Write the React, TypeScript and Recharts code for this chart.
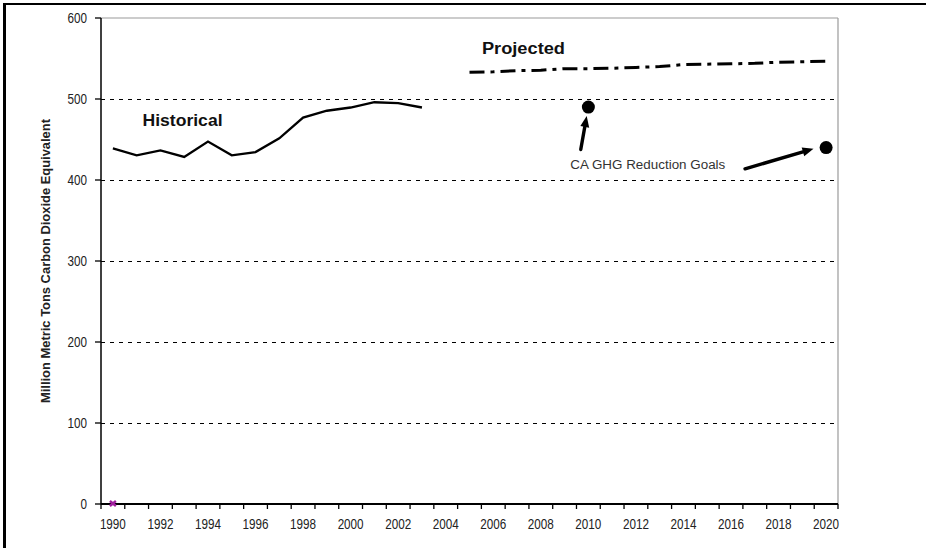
import React from "react";
import { LineChart, Line, XAxis, YAxis, ReferenceLine, ReferenceDot } from "recharts";

// years on the category axis
const years = [
  1990, 1991, 1992, 1993, 1994, 1995, 1996, 1997, 1998, 1999, 2000, 2001, 2002, 2003, 2004,
  2005, 2006, 2007, 2008, 2009, 2010, 2011, 2012, 2013, 2014, 2015, 2016, 2017, 2018, 2019, 2020,
];
// 1990 - 2003
const historical = [439, 430.5, 436.5, 428.5, 447.5, 430.5, 434.5, 451.5, 477, 485.5, 489.5, 496, 495, 489.5];
// 2005 - 2020
const projected = [533, 533.5, 535, 535.5, 537.5, 537.5, 538, 539, 540, 542.5, 543, 543.5, 544, 545.5, 546, 546.5];
const goalYears = [2010, 2020];
const goalValues = [490, 440];
const yTicks = [0, 100, 200, 300, 400, 500, 600];
const gridValues = [100, 200, 300, 400, 500];

const data = years.map((year, i) => ({
  year,
  historical: i < historical.length ? historical[i] : null,
  projected: year >= 2005 ? projected[year - 2005] : null,
  goal: goalYears.includes(year) ? goalValues[goalYears.indexOf(year)] : null,
  base: year === 1990 ? 0 : null,
}));

const SANS = '"Liberation Sans", Arial, sans-serif';
const STEP = 737 / 31; // width of one year band
const DIGIT = 6.5; // narrow digits like the original

const XTick = (props: any) => {
  const { x, y, payload, index } = props;
  const year = payload.value;
  return (
    <g>
      <line x1={x - STEP / 2} x2={x - STEP / 2} y1={y} y2={y + 5} stroke="#000" strokeWidth={1.3} />
      {index === years.length - 1 && (
        <line x1={x + STEP / 2} x2={x + STEP / 2} y1={y} y2={y + 5} stroke="#000" strokeWidth={1.3} />
      )}
      {year % 2 === 0 && (
        <text
          x={x}
          y={y + 25}
          textAnchor="middle"
          fontSize={14}
          fontFamily={SANS}
          fill="#222"
          textLength={4 * DIGIT}
          lengthAdjust="spacingAndGlyphs"
        >
          {year}
        </text>
      )}
    </g>
  );
};

const YTick = (props: any) => {
  const { x, y, payload } = props;
  const s = String(payload.value);
  return (
    <text
      x={x}
      y={y + 5}
      textAnchor="end"
      fontSize={14}
      fontFamily={SANS}
      fill="#222"
      textLength={s.length * DIGIT}
      lengthAdjust="spacingAndGlyphs"
    >
      {s}
    </text>
  );
};

// hand drawn style arrow from (x1,y1) to (x2,y2)
const Arrow = (props: any) => {
  const { x1, y1, x2, y2 } = props;
  const dx = x2 - x1;
  const dy = y2 - y1;
  const len = Math.sqrt(dx * dx + dy * dy);
  const ux = dx / len;
  const uy = dy / len;
  const head = 11;
  const hw = 4.5;
  const bx = x2 - ux * head;
  const by = y2 - uy * head;
  return (
    <g>
      <line x1={x1} y1={y1} x2={bx} y2={by} stroke="#000" strokeWidth={3.4} strokeLinecap="round" />
      <polygon
        points={`${x2},${y2} ${bx - uy * hw},${by + ux * hw} ${bx + uy * hw},${by - ux * hw}`}
        fill="#000"
      />
    </g>
  );
};

const textLabel = (text: string, opts: any) => (p: any) => (
  <text
    x={p.cx}
    y={p.cy}
    textAnchor="middle"
    dominantBaseline="central"
    fontFamily={SANS}
    fill="#111"
    lengthAdjust="spacingAndGlyphs"
    {...opts}
  >
    {text}
  </text>
);

const BaseMark = (props: any) => {
  const { cx, cy } = props;
  if (cy == null || props.value == null) return null;
  return (
    <g stroke="#a0209f" strokeWidth={2.4}>
      <line x1={cx - 3} y1={cy - 3} x2={cx + 3} y2={cy + 2} />
      <line x1={cx + 3} y1={cy - 3} x2={cx - 3} y2={cy + 2} />
    </g>
  );
};

export default function App() {
  return (
    <div style={{ position: "absolute", top: 0, left: 0, width: 926, height: 548, overflow: "hidden", background: "#fff" }}>
      <div
        style={{
          position: "absolute",
          top: 3,
          left: 3,
          width: 930,
          height: 560,
          borderTop: "2px solid #000",
          borderLeft: "3px solid #000",
        }}
      />
      <div style={{ position: "absolute", top: 0, left: 0 }}>
        <LineChart width={926} height={548} data={data} margin={{ top: 18, right: 88, bottom: 0, left: 40 }}>
          {gridValues.map((v) => (
            <ReferenceLine
              key={v}
              y={v}
              stroke="#000"
              strokeDasharray="4 5"
              strokeWidth={1}
              shapeRendering="crispEdges"
            />
          ))}
          <ReferenceLine y={600} stroke="#9a9a9a" strokeWidth={1.2} />
          <ReferenceLine x={2020.5} stroke="#9a9a9a" strokeWidth={1.2} />
          <XAxis
            dataKey="year"
            type="number"
            domain={[1989.5, 2020.5]}
            ticks={years}
            interval={0}
            height={44}
            tickSize={0}
            tickMargin={0}
            tickLine={false}
            tick={<XTick />}
            axisLine={{ stroke: "#000", strokeWidth: 2 }}
          />
          <YAxis
            domain={[0, 600]}
            ticks={yTicks}
            width={61}
            tickSize={6}
            tickMargin={8}
            interval={0}
            axisLine={{ stroke: "#000", strokeWidth: 1.5 }}
            tickLine={{ stroke: "#000", strokeWidth: 1.3 }}
            tick={<YTick />}
            label={({ viewBox }: any) => (
              <text
                transform={`translate(${viewBox.x + 6}, ${viewBox.y + viewBox.height / 2}) rotate(-90)`}
                textAnchor="middle"
                dominantBaseline="central"
                fontSize={12.5}
                fontWeight="bold"
                fontFamily={SANS}
                fill="#222"
                textLength={284}
                lengthAdjust="spacingAndGlyphs"
              >
                Million Metric Tons Carbon Dioxide Equivalent
              </text>
            )}
          />
          <Line
            dataKey="historical"
            stroke="#000"
            strokeWidth={2.3}
            dot={false}
            connectNulls={false}
            isAnimationActive={false}
          />
          <Line
            dataKey="projected"
            stroke="#000"
            strokeWidth={3}
            strokeDasharray="15 6 4 6"
            dot={false}
            connectNulls={false}
            isAnimationActive={false}
          />
          <Line
            dataKey="goal"
            stroke="none"
            dot={{ r: 6.5, fill: "#000", stroke: "#000", strokeWidth: 0 }}
            activeDot={false}
            isAnimationActive={false}
          />
          <Line
            dataKey="base"
            stroke="none"
            dot={<BaseMark />}
            activeDot={false}
            isAnimationActive={false}
          />
          <ReferenceLine
            segment={[{ x: 2009.68, y: 437.7 }, { x: 2009.93, y: 479 }]}
            shape={<Arrow />}
          />
          <ReferenceLine
            segment={[{ x: 2016.59, y: 413.8 }, { x: 2019.47, y: 438.5 }]}
            shape={<Arrow />}
          />
          <ReferenceDot
            x={1992.93}
            y={473.8}
            r={0}
            shape={textLabel("Historical", { fontSize: 16, fontWeight: "bold", textLength: 80 })}
          />
          <ReferenceDot
            x={2007.27}
            y={562.8}
            r={0}
            shape={textLabel("Projected", { fontSize: 16, fontWeight: "bold", textLength: 83 })}
          />
          <ReferenceDot
            x={2012.5}
            y={419}
            r={0}
            shape={textLabel("CA GHG Reduction Goals", { fontSize: 12.5, fill: "#333", textLength: 155 })}
          />
        </LineChart>
      </div>
    </div>
  );
}
